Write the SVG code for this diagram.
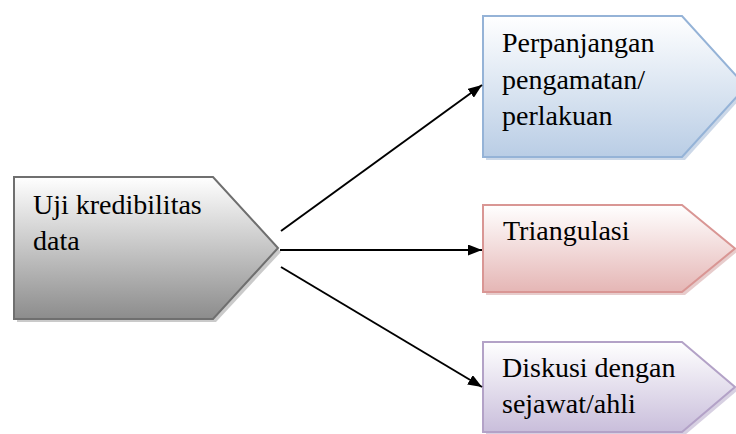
<svg xmlns="http://www.w3.org/2000/svg" width="736" height="434" viewBox="0 0 736 434">
<defs>
<linearGradient id="gGray" x1="0" y1="0" x2="0" y2="1"><stop offset="0" stop-color="#ffffff"/><stop offset="1" stop-color="#8c8c8c"/></linearGradient>
<linearGradient id="gBlue" x1="0" y1="0" x2="0" y2="1"><stop offset="0" stop-color="#ffffff"/><stop offset="1" stop-color="#b9cde5"/></linearGradient>
<linearGradient id="gPink" x1="0" y1="0" x2="0" y2="1"><stop offset="0" stop-color="#ffffff"/><stop offset="1" stop-color="#e5b6b5"/></linearGradient>
<linearGradient id="gPurple" x1="0" y1="0" x2="0" y2="1"><stop offset="0" stop-color="#ffffff"/><stop offset="1" stop-color="#c9bedb"/></linearGradient>
<marker id="arr" markerWidth="14" markerHeight="11" refX="14" refY="5.5" orient="auto" markerUnits="userSpaceOnUse"><path d="M0,0 L14,5.5 L0,11 Z" fill="#000"/></marker>
</defs>
<style>
.t{font-family:"Liberation Serif","DejaVu Serif",serif;font-size:28px;fill:#000}
.sh{opacity:0.45}
.conn line{stroke:#000;stroke-width:2;marker-end:url(#arr)}
</style>
<g id="node-uji">
<path class="sh" d="M17,180 H216 L281,252 L216,322 H17 Z" fill="#8a8a8a"/>
<path d="M14,177 H213 L278,248 L213,319 H14 Z" fill="url(#gGray)" stroke="#6f6f6f" stroke-width="2"/>
<text class="t" x="33" y="214">Uji kredibilitas</text>
<text class="t" x="33" y="250">data</text>
</g>
<g id="node-perpanjangan">
<path class="sh" d="M486,19 H685 L749,89 L685,160 H486 Z" fill="#8ea9cc"/>
<path d="M483,16 H682 L746,86.5 L682,157 H483 Z" fill="url(#gBlue)" stroke="#95b3d7" stroke-width="2"/>
<text class="t" x="502" y="52">Perpanjangan</text>
<text class="t" x="502" y="89">pengamatan/</text>
<text class="t" x="502" y="125">perlakuan</text>
</g>
<g id="node-triangulasi">
<path class="sh" d="M486,208 H685 L738,251 L685,295 H486 Z" fill="#c98f8d"/>
<path d="M483,205 H682 L735,248.5 L682,292 H483 Z" fill="url(#gPink)" stroke="#d99694" stroke-width="2"/>
<text class="t" x="503" y="240">Triangulasi</text>
</g>
<g id="node-diskusi">
<path class="sh" d="M486,345 H685 L738,390 L685,435 H486 Z" fill="#a797bf"/>
<path d="M483,342 H682 L735,387 L682,432 H483 Z" fill="url(#gPurple)" stroke="#b3a2c7" stroke-width="2"/>
<text class="t" x="502" y="377">Diskusi dengan</text>
<text class="t" x="502" y="413">sejawat/ahli</text>
</g>
<g id="connectors" class="conn">
<line x1="281" y1="231" x2="482" y2="85"/>
<line x1="280" y1="250" x2="482" y2="250"/>
<line x1="281" y1="267" x2="482" y2="387"/>
</g>
</svg>
